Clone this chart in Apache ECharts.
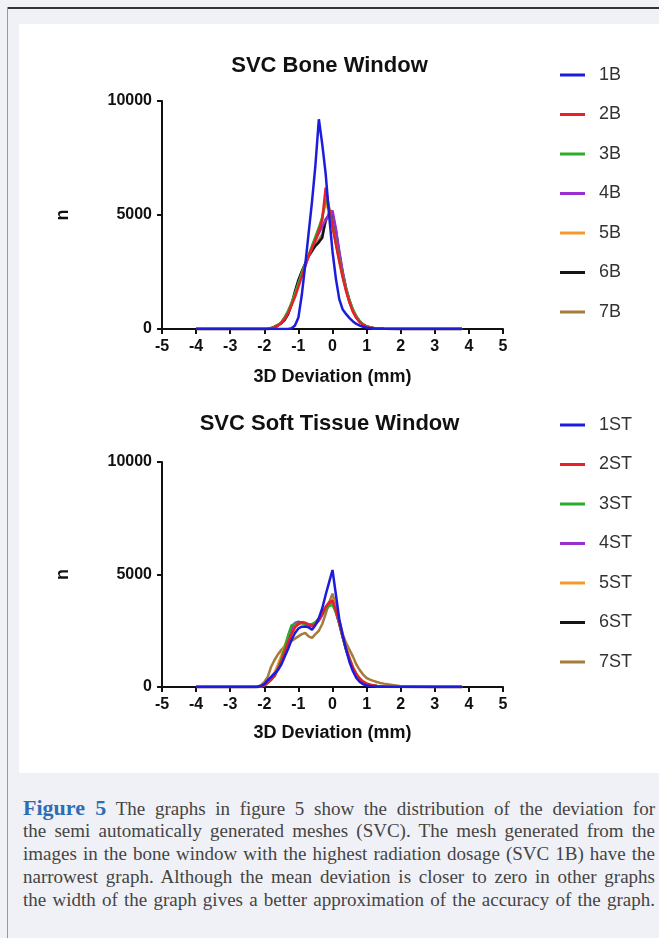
<!DOCTYPE html>
<html>
<head>
<meta charset="utf-8">
<script src="https://cdn.jsdelivr.net/npm/echarts@6/dist/echarts.min.js"></script>
<style>
  body { margin: 0; background: #f0f1f6; width: 659px; height: 938px; position: relative; overflow: hidden; }
  .topLine { position: absolute; left: 7px; top: 7px; width: 652px; border-top: 2px solid #333; }
  .leftLine { position: absolute; left: 7px; top: 7px; height: 931px; border-left: 1px solid #999; }
  .panel { position: absolute; left: 19px; top: 24px; width: 640px; height: 749px; background: #fff; }
  #chart { position: absolute; left: 0; top: 0; width: 659px; height: 773px; }
  .caption { position: absolute; left: 23px; top: 796px; width: 632px; font-family: "Liberation Serif", serif; font-size: 19px; color: #444; }
  .caption .ln { text-align: justify; text-align-last: justify; height: 23px; line-height: 23px; }
  .caption .fig { color: #2d6db5; font-size: 22px; font-weight: bold; }
</style>
</head>
<body>
<div class="topLine"></div>
<div class="leftLine"></div>
<div class="panel"></div>
<div id="chart"></div>
<div class="caption">
  <div class="ln"><span class="fig">Figure 5</span> The graphs in figure 5 show the distribution of the deviation for</div>
  <div class="ln">the semi automatically generated meshes (SVC). The mesh generated from the</div>
  <div class="ln">images in the bone window with the highest radiation dosage (SVC 1B) have the</div>
  <div class="ln">narrowest graph. Although the mean deviation is closer to zero in other graphs</div>
  <div class="ln">the width of the graph gives a better approximation of the accuracy of the graph.</div>
</div>
<script>
// deviation bins (mm)
var devX = [-4, -3, -2.3, -2.2, -2.1, -2.0, -1.9, -1.8, -1.7, -1.6, -1.5, -1.4, -1.3, -1.2, -1.1, -1.0, -0.9, -0.8, -0.7, -0.6, -0.5, -0.4, -0.3, -0.2, -0.1, 0, 0.1, 0.2, 0.3, 0.4, 0.5, 0.6, 0.7, 0.8, 0.9, 1.0, 1.1, 1.2, 1.3, 1.4, 1.5, 2, 3, 3.8]

var boneNames = ['1B', '2B', '3B', '4B', '5B', '6B', '7B']
var softNames = ['1ST', '2ST', '3ST', '4ST', '5ST', '6ST', '7ST']
var colors = ['#1c1cdc', '#e8202a', '#2aae2a', '#9a2fd0', '#f39a2b', '#141414', '#a57c3c']

// SVC bone window
var b1 = [0, 0, 0, 0, 0, 0, 0, 0, 0, 0, 0, 0, 0, 30, 150, 500, 1500, 2800, 4200, 5600, 7200, 9200, 8100, 6800, 5000, 3400, 2200, 1300, 850, 650, 480, 330, 220, 150, 100, 60, 40, 25, 15, 10, 6, 2, 0, 0]
var b2 = [0, 0, 0, 0, 0, 0, 0, 20, 60, 150, 250, 450, 700, 1050, 1400, 1850, 2300, 2750, 3200, 3550, 3900, 4300, 4800, 6200, 5300, 4500, 3700, 2950, 2250, 1650, 1150, 750, 480, 300, 180, 100, 60, 40, 25, 15, 10, 5, 0, 0]
var b3 = [0, 0, 0, 0, 0, 0, 0, 20, 70, 160, 300, 520, 800, 1150, 1550, 2000, 2450, 2850, 3250, 3650, 4050, 4450, 4900, 5700, 5300, 4600, 3800, 3050, 2350, 1750, 1250, 850, 560, 350, 200, 120, 70, 45, 28, 18, 12, 5, 0, 0]
var b4 = [0, 0, 0, 0, 0, 0, 0, 20, 60, 150, 270, 480, 750, 1100, 1500, 1950, 2400, 2800, 3200, 3550, 3900, 4200, 4500, 4800, 5000, 5200, 4400, 3400, 2500, 1800, 1250, 830, 530, 330, 190, 110, 65, 40, 25, 15, 10, 5, 2, 0]
var b5 = [0, 0, 0, 0, 0, 0, 0, 20, 70, 170, 300, 500, 780, 1120, 1500, 1950, 2400, 2800, 3200, 3600, 4000, 4400, 4900, 5500, 5200, 4500, 3750, 3000, 2300, 1700, 1200, 800, 520, 320, 190, 110, 65, 40, 25, 15, 10, 5, 0, 0]
var b6 = [0, 0, 0, 0, 0, 0, 10, 40, 100, 180, 260, 400, 650, 1100, 1650, 2150, 2530, 2870, 3190, 3420, 3650, 3800, 4000, 4800, 5000, 5000, 4300, 3300, 2450, 1750, 1200, 800, 520, 320, 190, 110, 65, 40, 25, 15, 10, 5, 0, 0]
var b7 = [0, 0, 0, 0, 0, 0, 10, 30, 90, 170, 250, 420, 680, 1050, 1550, 2050, 2480, 2850, 3200, 3450, 3700, 3900, 4150, 4700, 5100, 4900, 4200, 3250, 2400, 1700, 1180, 790, 510, 320, 190, 110, 65, 40, 25, 15, 10, 5, 0, 0]

// SVC soft tissue window
var s1 = [0, 0, 0, 10, 50, 130, 300, 450, 600, 750, 1000, 1350, 1700, 2100, 2400, 2600, 2680, 2690, 2650, 2540, 2750, 3060, 3500, 4100, 4650, 5200, 4100, 3000, 2300, 1650, 1100, 700, 400, 220, 120, 70, 45, 30, 20, 15, 10, 5, 0, 0]
var s2 = [0, 0, 0, 0, 20, 80, 200, 330, 480, 800, 1150, 1550, 2000, 2350, 2650, 2800, 2880, 2850, 2780, 2720, 2800, 2980, 3250, 3550, 3750, 3850, 3400, 2850, 2250, 1700, 1250, 850, 560, 360, 230, 150, 100, 70, 50, 35, 25, 10, 3, 0]
var s3 = [0, 0, 0, 0, 20, 70, 180, 320, 500, 820, 1250, 1750, 2300, 2750, 2800, 2820, 2850, 2800, 2780, 2800, 2880, 3050, 3250, 3450, 3600, 3650, 3300, 2800, 2200, 1650, 1200, 820, 540, 350, 220, 140, 95, 65, 45, 30, 22, 8, 2, 0]
var s4 = [0, 0, 0, 0, 20, 80, 200, 350, 520, 850, 1200, 1650, 2150, 2600, 2850, 2900, 2850, 2800, 2750, 2700, 2800, 2950, 3200, 3500, 3700, 3800, 3350, 2800, 2200, 1650, 1200, 830, 550, 350, 220, 140, 95, 65, 45, 30, 22, 8, 2, 0]
var s5 = [0, 0, 0, 10, 40, 120, 250, 420, 650, 1000, 1400, 1850, 2250, 2550, 2700, 2780, 2830, 2800, 2750, 2720, 2800, 2970, 3220, 3500, 3720, 3900, 3450, 2900, 2300, 1750, 1300, 900, 600, 390, 250, 160, 110, 75, 50, 35, 25, 10, 3, 0]
var s6 = [0, 0, 0, 0, 20, 80, 190, 330, 500, 820, 1180, 1580, 2050, 2400, 2680, 2820, 2870, 2840, 2770, 2720, 2810, 2990, 3260, 3540, 3740, 3820, 3380, 2830, 2230, 1680, 1230, 840, 550, 350, 220, 140, 95, 65, 45, 30, 22, 8, 2, 0]
var s7 = [0, 0, 0, 20, 80, 220, 450, 900, 1200, 1450, 1650, 1820, 1950, 2050, 2150, 2250, 2350, 2400, 2250, 2180, 2350, 2500, 2800, 3250, 3750, 4150, 3550, 2950, 2350, 1950, 1650, 1350, 1000, 750, 550, 400, 330, 270, 220, 180, 150, 30, 5, 0]

var boneVals = [b1, b2, b3, b4, b5, b6, b7]
var softVals = [s1, s2, s3, s4, s5, s6, s7]

var font = 'Liberation Sans, Arial, sans-serif'

function makeXAxis(gridIndex, nameGap) {
  return {
    type: 'value',
    gridIndex: gridIndex,
    min: -5,
    max: 5,
    interval: 1,
    name: '3D Deviation (mm)',
    nameLocation: 'middle',
    nameGap: nameGap,
    nameTextStyle: { fontFamily: font, fontSize: 18, fontWeight: 'bold', color: '#111' },
    axisLine: { show: true, onZero: false, lineStyle: { color: '#111', width: 2 } },
    axisTick: { show: true, length: 5, lineStyle: { color: '#111', width: 2 } },
    axisLabel: { fontFamily: font, fontSize: 16, fontWeight: 'bold', color: '#111', margin: 10 },
    splitLine: { show: false }
  }
}

function makeYAxis(gridIndex) {
  return {
    type: 'value',
    gridIndex: gridIndex,
    min: 0,
    max: 10000,
    interval: 5000,
    name: 'n',
    nameLocation: 'middle',
    nameGap: 90,
    nameTextStyle: { fontFamily: font, fontSize: 18, fontWeight: 'bold', color: '#111' },
    axisLine: { show: true, onZero: false, lineStyle: { color: '#111', width: 2 } },
    axisTick: { show: true, length: 5, lineStyle: { color: '#111', width: 2 } },
    axisLabel: {
      fontFamily: font, fontSize: 16, fontWeight: 'bold', color: '#111', margin: 10,
      formatter: function (v) { return String(v) }
    },
    splitLine: { show: false }
  }
}

function makeLegend(names, top) {
  return {
    data: names,
    orient: 'vertical',
    left: 555,
    top: top,
    icon: 'rect',
    itemWidth: 25,
    itemHeight: 3,
    itemGap: 21.5,
    textStyle: { fontFamily: font, fontSize: 18, lineHeight: 18, color: '#333', padding: [0, 0, 0, 9] }
  }
}

var series = []
// draw 7 first so that 1 lies on top
for (var i = 6; i >= 0; i--) {
  series.push({
    name: boneNames[i],
    type: 'line',
    xAxisIndex: 0,
    yAxisIndex: 0,
    symbol: 'none',
    color: colors[i],
    lineStyle: { width: 2.5 },
    data: devX.map(function (x, k) { return [x, boneVals[i][k]] })
  })
  series.push({
    name: softNames[i],
    type: 'line',
    xAxisIndex: 1,
    yAxisIndex: 1,
    symbol: 'none',
    color: colors[i],
    lineStyle: { width: 2.5 },
    data: devX.map(function (x, k) { return [x, softVals[i][k]] })
  })
}

var myChart = echarts.init(document.getElementById('chart'))
var option = {
  animation: false,
  backgroundColor: 'transparent',
  title: [
    { text: 'SVC Bone Window', left: 'center', top: 55, padding: 0, textStyle: { fontFamily: font, fontSize: 22, fontWeight: 'bold', color: '#111' } },
    { text: 'SVC Soft Tissue Window', left: 'center', top: 413, padding: 0, textStyle: { fontFamily: font, fontSize: 22, fontWeight: 'bold', color: '#111' } }
  ],
  legend: [makeLegend(boneNames, 61), makeLegend(softNames, 411)],
  grid: [
    { left: 162, top: 101, width: 341, height: 228 },
    { left: 162, top: 462, width: 341, height: 225 }
  ],
  xAxis: [makeXAxis(0, 39), makeXAxis(1, 37)],
  yAxis: [makeYAxis(0), makeYAxis(1)],
  series: series
}
myChart.setOption(option)
</script>
</body>
</html>
